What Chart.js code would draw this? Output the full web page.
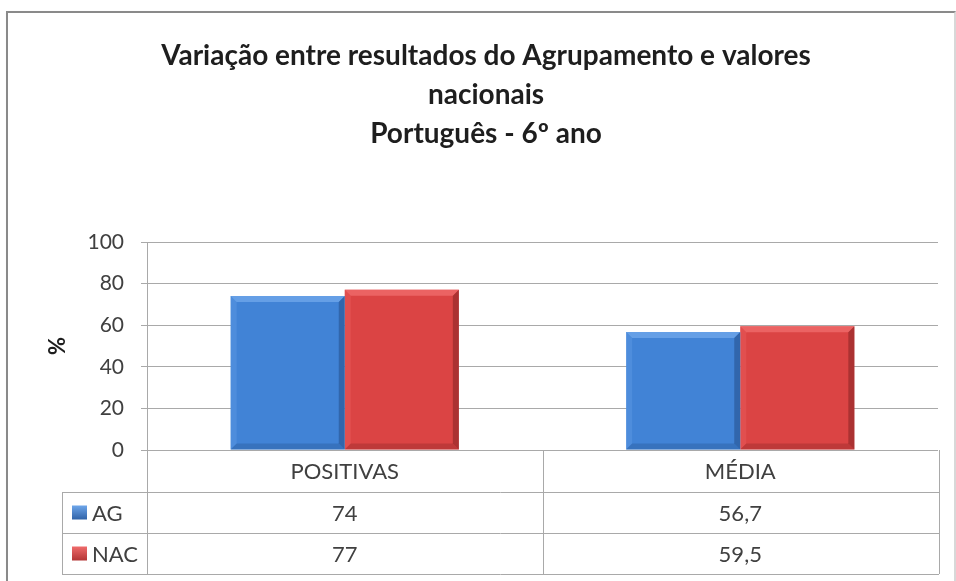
<!DOCTYPE html>
<html lang="pt">
<head>
<meta charset="utf-8">
<title>Variação entre resultados do Agrupamento e valores nacionais</title>
<script src="https://cdn.jsdelivr.net/npm/chart.js@4.4.1/dist/chart.umd.min.js"></script>
<style>
  html, body { margin: 0; padding: 0; background: #fff; }
  .wrap { position: relative; width: 956px; height: 581px; overflow: hidden; }
  .frame {
    position: absolute; left: 6px; top: 11px; width: 946px; height: 620px;
    border: 2px solid #8a8a8a; border-right-color: #d8d8d8;
    box-shadow: 1px 1px 2px rgba(0,0,0,0.15);
  }
  canvas { position: absolute; left: 0; top: 0; }
</style>
</head>
<body>
<div class="wrap">
  <div class="frame"></div>
  <canvas id="chart" width="956" height="581"></canvas>
</div>
<script>
// values per category
const categories = ["POSITIVAS", "MÉDIA"];
const agValues = [74, 56.7];
const nacValues = [77, 59.5];
const seriesNames = ["AG", "NAC"];
const titleLines = ["Variação entre resultados do Agrupamento e valores", "nacionais", "Português - 6º ano"];

const palette = {
  AG:  { light: "#6ea6ea", top: "#4183d6", bottom: "#3063a8", dark: "#26538f" },
  NAC: { light: "#ef6b6b", top: "#db4444", bottom: "#b33535", dark: "#8a2626" }
};

const TEXT = "#404040";
const LINE = "#a9a9a9";
const HEADER_H = 42;
const ROW_H = 41;
const LEGEND_LEFT = 62;
const PAD_LEFT = 34;

function fmt(v) {
  return String(v).replace(".", ",");
}

function barFill(name) {
  return ctx => {
    const c = palette[name];
    const el = ctx.element;
    if (!el || el.y === undefined) return c.top;
    const g = ctx.chart.ctx.createLinearGradient(0, el.y, 0, el.base);
    g.addColorStop(0, c.top);
    g.addColorStop(1, c.bottom);
    return g;
  };
}

// bevelled edges on every bar
const bevel = {
  id: "bevel",
  afterDatasetsDraw(chart) {
    const ctx = chart.ctx;
    chart.data.datasets.forEach((ds, i) => {
      const c = palette[ds.label];
      chart.getDatasetMeta(i).data.forEach(bar => {
        const l = bar.x - bar.width / 2, r = bar.x + bar.width / 2;
        const t = bar.y, b = bar.base, d = 6;
        ctx.save();
        // top
        ctx.fillStyle = c.light;
        ctx.globalAlpha = 0.8;
        ctx.beginPath();
        ctx.moveTo(l, t); ctx.lineTo(r, t); ctx.lineTo(r - d, t + d); ctx.lineTo(l + d, t + d);
        ctx.closePath(); ctx.fill();
        // left
        ctx.globalAlpha = 0.3;
        ctx.beginPath();
        ctx.moveTo(l, t); ctx.lineTo(l + d, t + d); ctx.lineTo(l + d, b - d); ctx.lineTo(l, b);
        ctx.closePath(); ctx.fill();
        // right
        ctx.fillStyle = c.dark;
        ctx.globalAlpha = 0.6;
        ctx.beginPath();
        ctx.moveTo(r, t); ctx.lineTo(r, b); ctx.lineTo(r - d, b - d); ctx.lineTo(r - d, t + d);
        ctx.closePath(); ctx.fill();
        // bottom
        ctx.globalAlpha = 0.35;
        ctx.beginPath();
        ctx.moveTo(l, b); ctx.lineTo(r, b); ctx.lineTo(r - d, b - d); ctx.lineTo(l + d, b - d);
        ctx.closePath(); ctx.fill();
        ctx.restore();
      });
    });
  }
};

// data table under the plot: header row, then one row per series
const dataTable = {
  id: "dataTable",
  afterDraw(chart) {
    const { ctx, chartArea: a, scales: { x } } = chart;
    const rows = [a.bottom + HEADER_H, a.bottom + HEADER_H + ROW_H, a.bottom + HEADER_H + 2 * ROW_H];
    const mid = (x.getPixelForValue(0) + x.getPixelForValue(1)) / 2;
    const right = a.right + 1;

    ctx.save();
    ctx.strokeStyle = LINE;
    ctx.lineWidth = 1;
    ctx.beginPath();
    rows.forEach(y => { ctx.moveTo(LEGEND_LEFT, y + 0.5); ctx.lineTo(right, y + 0.5); });
    ctx.moveTo(LEGEND_LEFT + 0.5, rows[0]); ctx.lineTo(LEGEND_LEFT + 0.5, rows[2]);
    ctx.moveTo(a.left + 0.5, a.bottom); ctx.lineTo(a.left + 0.5, rows[2]);
    ctx.moveTo(Math.round(mid) + 0.5, a.bottom); ctx.lineTo(Math.round(mid) + 0.5, rows[2]);
    ctx.moveTo(right + 0.5, a.bottom); ctx.lineTo(right + 0.5, rows[2]);
    ctx.stroke();

    ctx.fillStyle = TEXT;
    ctx.font = "22px Lato";
    ctx.textAlign = "center";
    ctx.textBaseline = "middle";
    categories.forEach((cat, i) => {
      ctx.fillText(cat, x.getPixelForValue(i), a.bottom + HEADER_H / 2 + 1);
    });

    chart.data.datasets.forEach((ds, r) => {
      const top = rows[r];
      const cy = top + ROW_H / 2;
      ds.data.forEach((v, i) => {
        ctx.textAlign = "center";
        ctx.fillStyle = TEXT;
        ctx.fillText(fmt(v), x.getPixelForValue(i), cy + 1);
      });
      // legend key
      const c = palette[ds.label];
      const g = ctx.createLinearGradient(0, cy - 7, 0, cy + 7);
      g.addColorStop(0, c.light);
      g.addColorStop(1, c.bottom);
      ctx.fillStyle = g;
      ctx.fillRect(LEGEND_LEFT + 10, cy - 7, 15, 14);
      ctx.fillStyle = TEXT;
      ctx.textAlign = "left";
      ctx.fillText(ds.label, LEGEND_LEFT + 30, cy + 1);
    });
    ctx.restore();
  }
};

new Chart(document.getElementById("chart"), {
  type: "bar",
  data: {
    labels: categories,
    datasets: [
      { label: seriesNames[0], data: agValues, backgroundColor: barFill("AG") },
      { label: seriesNames[1], data: nacValues, backgroundColor: barFill("NAC") }
    ]
  },
  options: {
    responsive: false,
    animation: false,
    devicePixelRatio: 1,
    layout: { padding: { top: 16, right: 18, bottom: 7, left: PAD_LEFT } },
    datasets: {
      bar: { categoryPercentage: 0.577, barPercentage: 1, borderWidth: 0 }
    },
    plugins: {
      legend: { display: false },
      tooltip: { enabled: false },
      title: {
        display: true,
        text: titleLines,
        color: "#1e1e1e",
        font: { family: "Lato", size: 28, weight: "bold", lineHeight: 39 / 28 },
        padding: { top: 20, bottom: 89 }
      }
    },
    scales: {
      x: {
        grid: { display: false },
        border: { display: false },
        ticks: { display: false },
        afterFit(scale) { scale.height = HEADER_H + 2 * ROW_H; }
      },
      y: {
        min: 0,
        max: 100,
        ticks: {
          stepSize: 20,
          color: TEXT,
          padding: 17,
          font: { family: "Lato", size: 21 }
        },
        grid: { color: LINE, tickLength: 6 },
        border: { display: true, color: LINE },
        title: {
          display: true,
          text: "%",
          color: "#1e1e1e",
          font: { family: "Lato", size: 22, weight: "bold" },
          padding: { top: 11, bottom: 0 }
        },
        afterFit(scale) { scale.width = 147 - PAD_LEFT; }
      }
    }
  },
  plugins: [bevel, dataTable]
});
</script>
</body>
</html>
